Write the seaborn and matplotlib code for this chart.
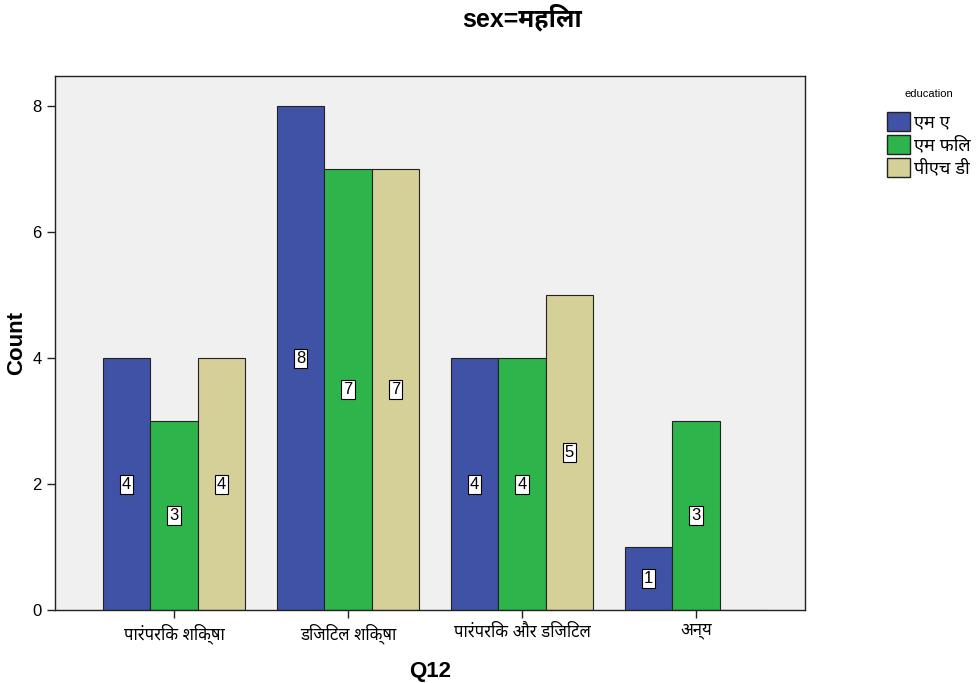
import pandas as pd
import matplotlib
matplotlib.use("Agg")
import matplotlib.pyplot as plt
import seaborn as sns
from matplotlib import font_manager

# =========================
# DATA
# =========================

categories = ["पारंपरिक शिक्षा", "डिजिटल शिक्षा", "पारंपरिक और डिजिटल", "अन्य"]
education = ["एम ए", "एम फिल", "पीएच डी"]
count_ma = [4, 8, 4, 1]
count_mphil = [3, 7, 4, 3]
count_phd = [4, 7, 5, 0]

colors = ["#3F52A6", "#2DB54B", "#D5CF98"]

# =========================
# FONTS
# =========================

sns.set_style("white")

have = {f.name for f in font_manager.fontManager.ttflist}
deva = [n for n in ["Noto Sans Devanagari", "Noto Sans Devanagari UI", "Hind",
                    "Mukta", "Ek Mukta", "Amiko", "Kadwa"] if n in have]
deva_bold = [n for n in ["Noto Sans Devanagari UI", "Noto Sans Devanagari"] if n in have]

plt.rcParams["font.family"] = ["Liberation Sans"] + deva[:1] + ["DejaVu Sans"]
plt.rcParams["text.color"] = "black"
plt.rcParams["axes.labelcolor"] = "black"
plt.rcParams["xtick.color"] = "black"
plt.rcParams["ytick.color"] = "black"

# =========================
# BUILD TABLE
# =========================

df = pd.DataFrame({
    "Q12": categories * 3,
    "education": [e for e in education for _ in categories],
    "Count": count_ma + count_mphil + count_phd,
})

# =========================
# PLOT
# =========================

fig = plt.figure(figsize=(9.8, 6.83), dpi=100)
ax = fig.add_axes([55 / 980, 1 - 610 / 683, 750 / 980, 534 / 683])

sns.barplot(
    data=df,
    x="Q12",
    y="Count",
    hue="education",
    order=categories,
    hue_order=education,
    palette=colors,
    width=0.816,
    edgecolor="#222222",
    linewidth=0.8,
    saturation=1,
    ax=ax,
)

for cont in ax.containers:
    labels = [f"{int(b.get_height())}" if b.get_height() > 0 else "" for b in cont]
    ax.bar_label(
        cont,
        labels=labels,
        label_type="center",
        fontsize=12,
        bbox=dict(boxstyle="square,pad=0.12", fc="white", ec="black", lw=0.8),
    )

ax.set_facecolor("#F0F0F0")
ax.set_xlim(-0.684, 3.626)
ax.set_ylim(0, 8.48)
ax.set_yticks([0, 2, 4, 6, 8])

for s in ax.spines.values():
    s.set_color("#222222")
    s.set_linewidth(1.0)

ax.tick_params(axis="both", direction="out", length=6, width=1,
               color="#222222", labelsize=12, left=True, bottom=True)

ax.set_xlabel("Q12", fontsize=16, fontweight="bold", labelpad=12)
ax.set_ylabel("Count", fontsize=16, fontweight="bold", labelpad=4)

fig.text(522 / 980, 1 - 18 / 683, "sex=महिला", ha="center", va="center",
         fontsize=18, fontweight="bold",
         family=["Liberation Sans"] + deva_bold[:1] + ["DejaVu Sans"])

leg = ax.legend(
    title="education",
    loc="upper left",
    bbox_to_anchor=(887 / 980, 1 - 89 / 683),
    bbox_transform=fig.transFigure,
    frameon=False,
    fontsize=13,
    title_fontsize=8,
    handlelength=1.3,
    handleheight=1.25,
    handletextpad=0.2,
    labelspacing=0.2,
    borderaxespad=0,
    borderpad=0,
)
leg._legend_box.sep = 9
for h in leg.legend_handles:
    h.set_edgecolor("#222222")
    h.set_linewidth(1.0)

fig.savefig("out.png", dpi=100)
